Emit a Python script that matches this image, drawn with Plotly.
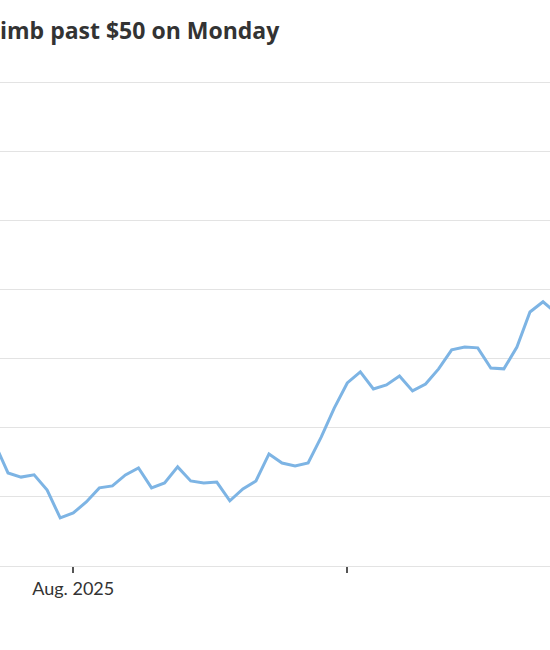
import plotly.graph_objects as go

dates = [
    "2025-07-24", "2025-07-25", "2025-07-28", "2025-07-29", "2025-07-30", "2025-07-31",
    "2025-08-01", "2025-08-04", "2025-08-05", "2025-08-06", "2025-08-07", "2025-08-08",
    "2025-08-11", "2025-08-12", "2025-08-13", "2025-08-14", "2025-08-15",
    "2025-08-18", "2025-08-19", "2025-08-20", "2025-08-21", "2025-08-22",
    "2025-08-25", "2025-08-26", "2025-08-27", "2025-08-28", "2025-08-29",
    "2025-09-02", "2025-09-03", "2025-09-04", "2025-09-05",
    "2025-09-08", "2025-09-09", "2025-09-10", "2025-09-11", "2025-09-12",
    "2025-09-15", "2025-09-16", "2025-09-17", "2025-09-18", "2025-09-19",
    "2025-09-22", "2025-09-23", "2025-09-24",
]
prices = [
    39.42, 38.37, 38.22, 38.30, 37.75, 36.74,
    36.92, 37.32, 37.83, 37.90, 38.30, 38.55,
    37.83, 38.01, 38.59, 38.08, 38.01,
    38.04, 37.36, 37.79, 38.08, 39.06,
    38.73, 38.62, 38.73, 39.67, 40.72,
    41.63, 42.03, 41.41, 41.56,
    41.88, 41.34, 41.59, 42.14, 42.83,
    42.93, 42.90, 42.17, 42.14, 42.93,
    44.20, 44.57, 44.17,
]
tick_dates = ["2025-08-01", "2025-09-02"]
tick_labels = ["Aug. 2025", ""]
grid_values = [35, 37.5, 40, 42.5, 45, 47.5, 50, 52.5]
title_text = "imb past $50 on Monday"

fig = go.Figure(
    go.Scatter(
        x=dates, y=prices, mode="lines",
        line=dict(color="#7db4e4", width=3),
        hoverinfo="skip",
    )
)

fig.update_layout(
    width=550, height=650,
    paper_bgcolor="white", plot_bgcolor="white",
    margin=dict(l=0, r=0, t=69, b=84),
    showlegend=False,
    title=dict(
        text="<b>" + title_text + "</b>",
        x=0, xref="container", xanchor="left",
        y=1 - 31 / 650, yref="container", yanchor="middle",
        font=dict(family="Open Sans", size=23, color="#333333"),
    ),
)

fig.update_xaxes(
    type="category",
    range=[0.387, 42.535],
    tickmode="array", tickvals=tick_dates, ticktext=tick_labels,
    ticks="outside", ticklen=6, tickwidth=2, tickcolor="#555555",
    showgrid=False, zeroline=False,
    showline=True, linecolor="#e3e3e3", linewidth=1,
    tickfont=dict(family="Lato", size=18, color="#333333"),
)

fig.update_yaxes(
    range=[35, 53],
    tickmode="array", tickvals=grid_values,
    showticklabels=False, ticks="",
    showgrid=True, gridcolor="#e3e3e3", gridwidth=1,
    zeroline=False, showline=False,
)

fig.write_html(
    "out.html",
    config={"displayModeBar": False, "staticPlot": True},
    post_script="document.body.style.margin='0px';document.body.style.overflow='hidden';",
)
